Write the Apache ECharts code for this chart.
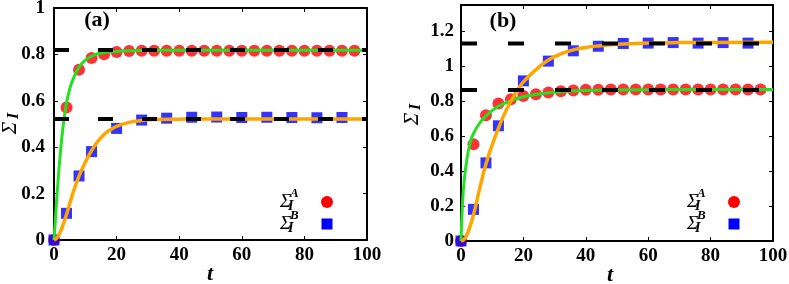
<!DOCTYPE html>
<html><head><meta charset="utf-8">
<script src="https://cdn.jsdelivr.net/npm/echarts@6/dist/echarts.min.js"></script>
<style>html,body{margin:0;padding:0;background:#fff}#c{width:789px;height:284px}</style>
</head><body><div id="c"></div>
<script>
// ---------- data ----------
const tCircles = [0,4,8,12,16,20,24,28,32,36,40,44,48,52,56,60,64,68,72,76,80,84,88,92,96];
const tSquares = [0,4,8,12,20,28,36,44,52,60,68,76,84,92];

// panel (a)
const aCircleA = [0,0.571,0.734,0.784,0.801,0.81,0.815,0.816,0.816,0.816,0.816,0.816,0.816,0.816,0.816,0.816,0.816,0.816,0.816,0.816,0.816,0.816,0.816,0.816,0.816];
const aSquareB = [0,0.115,0.276,0.381,0.481,0.517,0.525,0.529,0.53,0.528,0.529,0.528,0.527,0.528];
const aGreenT = [0,0.5,1,2,3,4,5,6,8,10,12,15,20,25,30,40,100];
const aGreenV = [0,0.1,0.2,0.37,0.5,0.59,0.65,0.69,0.745,0.775,0.792,0.806,0.813,0.816,0.817,0.818,0.818];
const aOrangeT = [0,1,2,3,4,6,8,10,12,14,16,18,20,24,28,32,40,50,100];
const aOrangeV = [0,0.01,0.035,0.07,0.11,0.2,0.275,0.335,0.385,0.425,0.455,0.475,0.49,0.507,0.515,0.519,0.521,0.522,0.522];
const aAsymA = 0.819;
const aAsymB = 0.522;

// panel (b)
const bCircleA = [0,0.554,0.72,0.787,0.811,0.829,0.84,0.85,0.857,0.861,0.865,0.865,0.866,0.866,0.866,0.866,0.866,0.866,0.866,0.866,0.866,0.866,0.866,0.866,0.866];
const bSquareB = [0,0.181,0.447,0.659,0.916,1.029,1.088,1.114,1.13,1.132,1.135,1.132,1.135,1.132];
const bGreenT = [0,0.5,1,2,3,4,6,8,10,12,16,20,25,30,40,50,70,100];
const bGreenV = [0,0.22,0.34,0.48,0.565,0.615,0.675,0.715,0.746,0.77,0.803,0.825,0.841,0.851,0.861,0.864,0.866,0.866];
const bOrangeT = [0,1,2,3,4,6,8,10,12,14,16,18,20,24,28,32,36,40,44,50,60,70,80,100];
const bOrangeV = [0,0.01,0.04,0.09,0.15,0.3,0.44,0.55,0.645,0.73,0.8,0.86,0.91,0.98,1.035,1.07,1.093,1.107,1.116,1.125,1.132,1.135,1.136,1.137];
const bAsymA = 0.864;
const bAsymB = 1.13;

const panelLabels = ['(a)','(b)'];
const xName = 't';

// ---------- helpers ----------
const zip = (xs, ys) => xs.map((x,i)=>[x, ys[i]]);
const FONT = '"Liberation Serif", "Times New Roman", serif';
const RED = '#ff0000', BLUE = '#0000ff', GREEN = '#22e022', ORANGE = '#ffa500';

function xAx(gi, pos, showLabel){
  return {
    type:'value', gridIndex:gi, position:pos, min:0, max:100, interval:20,
    axisLine:{show:true, onZero:false, lineStyle:{color:'#000', width:2}},
    axisTick:{show:true, inside:true, length:4, lineStyle:{color:'#000', width:1}},
    axisLabel:{show:showLabel, fontFamily:FONT, fontWeight:'bold', fontSize:19, color:'#000', margin:6},
    splitLine:{show:false}
  };
}
function yAx(gi, pos, max, showLabel, margin){
  return {
    type:'value', gridIndex:gi, position:pos, min:0, max:max, interval:0.2,
    axisLine:{show:true, onZero:false, lineStyle:{color:'#000', width:2}},
    axisTick:{show:true, inside:true, length:4, lineStyle:{color:'#000', width:1}},
    axisLabel:{show:showLabel, showMaxLabel: max===1, fontFamily:FONT, fontWeight:'bold', fontSize:19, color:'#000', margin:margin},
    splitLine:{show:false}
  };
}

function panelSeries(gi, circ, sq, gT, gV, oT, oV, asA, asB, dash){
  const xi = gi*2, yi = gi*2;
  const dashStyle = {color:'#000', width:4, type:dash, cap:'butt'};
  return [
    {type:'scatter', xAxisIndex:xi, yAxisIndex:yi, data:zip(tCircles, circ), symbol:'circle', symbolSize:12, itemStyle:{color:RED}, z:2},
    {type:'scatter', xAxisIndex:xi, yAxisIndex:yi, data:zip(tSquares, sq), symbol:'rect', symbolSize:11, itemStyle:{color:BLUE}, z:2},
    {type:'line', xAxisIndex:xi, yAxisIndex:yi, data:zip(gT, gV), smooth:0.5, showSymbol:false, symbol:'none', lineStyle:{color:GREEN, width:3}, z:3},
    {type:'line', xAxisIndex:xi, yAxisIndex:yi, data:zip(oT, oV), smooth:0.5, showSymbol:false, symbol:'none', lineStyle:{color:ORANGE, width:3.5}, z:3},
    {type:'line', xAxisIndex:xi, yAxisIndex:yi, data:[[0,asA],[100,asA]], showSymbol:false, symbol:'none', lineStyle:dashStyle, z:4},
    {type:'line', xAxisIndex:xi, yAxisIndex:yi, data:[[0,asB],[100,asB]], showSymbol:false, symbol:'none', lineStyle:dashStyle, z:4}
  ];
}

function legendGraphic(tx, cx){
  const items = [];
  [['A',202,RED,'circle'],['B',224,BLUE,'rect']].forEach(([sup, y, col, shape])=>{
    items.push({type:'text', x:tx, y:y, style:{text:'Σ', font:'italic 19px '+FONT, fill:'#000', textVerticalAlign:'middle', textAlign:'left'}});
    items.push({type:'text', x:tx+10, y:y-8, style:{text:sup, font:'italic bold 13px '+FONT, fill:'#000', textVerticalAlign:'middle', textAlign:'left'}});
    items.push({type:'text', x:tx+8, y:y+4, style:{text:'I', font:'italic bold 14px '+FONT, fill:'#000', textVerticalAlign:'middle', textAlign:'left'}});
    if(shape==='circle') items.push({type:'circle', shape:{cx:cx, cy:y, r:6}, style:{fill:col}});
    else items.push({type:'rect', shape:{x:cx-5.5, y:y-5.5, width:11, height:11}, style:{fill:col}});
  });
  return items;
}
function yNameGraphic(x, y){
  return [
    {type:'text', x:x, y:y, rotation:Math.PI/2, style:{text:'Σ', font:'italic 21px '+FONT, fill:'#000', textAlign:'center', textVerticalAlign:'middle'}},
    {type:'text', x:x+4, y:y-12, rotation:Math.PI/2, style:{text:'I', font:'italic bold 16px '+FONT, fill:'#000', textAlign:'center', textVerticalAlign:'middle'}}
  ];
}
function xNameGraphic(x, y){
  return {type:'text', x:x, y:y, style:{text:xName, font:'italic bold 22px '+FONT, fill:'#000', textAlign:'center', textVerticalAlign:'middle'}};
}

const chart = echarts.init(document.getElementById('c'), null, {renderer:'canvas'});
chart.setOption({
  animation:false,
  backgroundColor:'#fff',
  grid:[
    {left:54, right:422, top:8, bottom:44, outerBoundsMode:'none', containLabel:false},
    {left:461, right:16, top:5, bottom:43, outerBoundsMode:'none', containLabel:false}
  ],
  xAxis:[xAx(0,'bottom',true), xAx(0,'top',false), xAx(1,'bottom',true), xAx(1,'top',false)],
  yAxis:[yAx(0,'left',1,true,9), yAx(0,'right',1,false,9), yAx(1,'left',1.35,true,7), yAx(1,'right',1.35,false,7)],
  series:[].concat(
    panelSeries(0, aCircleA, aSquareB, aGreenT, aGreenV, aOrangeT, aOrangeV, aAsymA, aAsymB, [15,29]),
    panelSeries(1, bCircleA, bSquareB, bGreenT, bGreenV, bOrangeT, bOrangeV, bAsymA, bAsymB, [16,31])
  ),
  graphic:[].concat(
    [{type:'text', x:97, y:20, style:{text:panelLabels[0], font:'bold 22px '+FONT, fill:'#000', textAlign:'center', textVerticalAlign:'middle'}},
     {type:'text', x:503, y:21, style:{text:panelLabels[1], font:'bold 22px '+FONT, fill:'#000', textAlign:'center', textVerticalAlign:'middle'}}],
    legendGraphic(280, 327),
    legendGraphic(687, 734),
    yNameGraphic(10, 128),
    yNameGraphic(412, 119),
    [xNameGraphic(210, 274), xNameGraphic(610, 275)]
  )
});
</script>
</body></html>
